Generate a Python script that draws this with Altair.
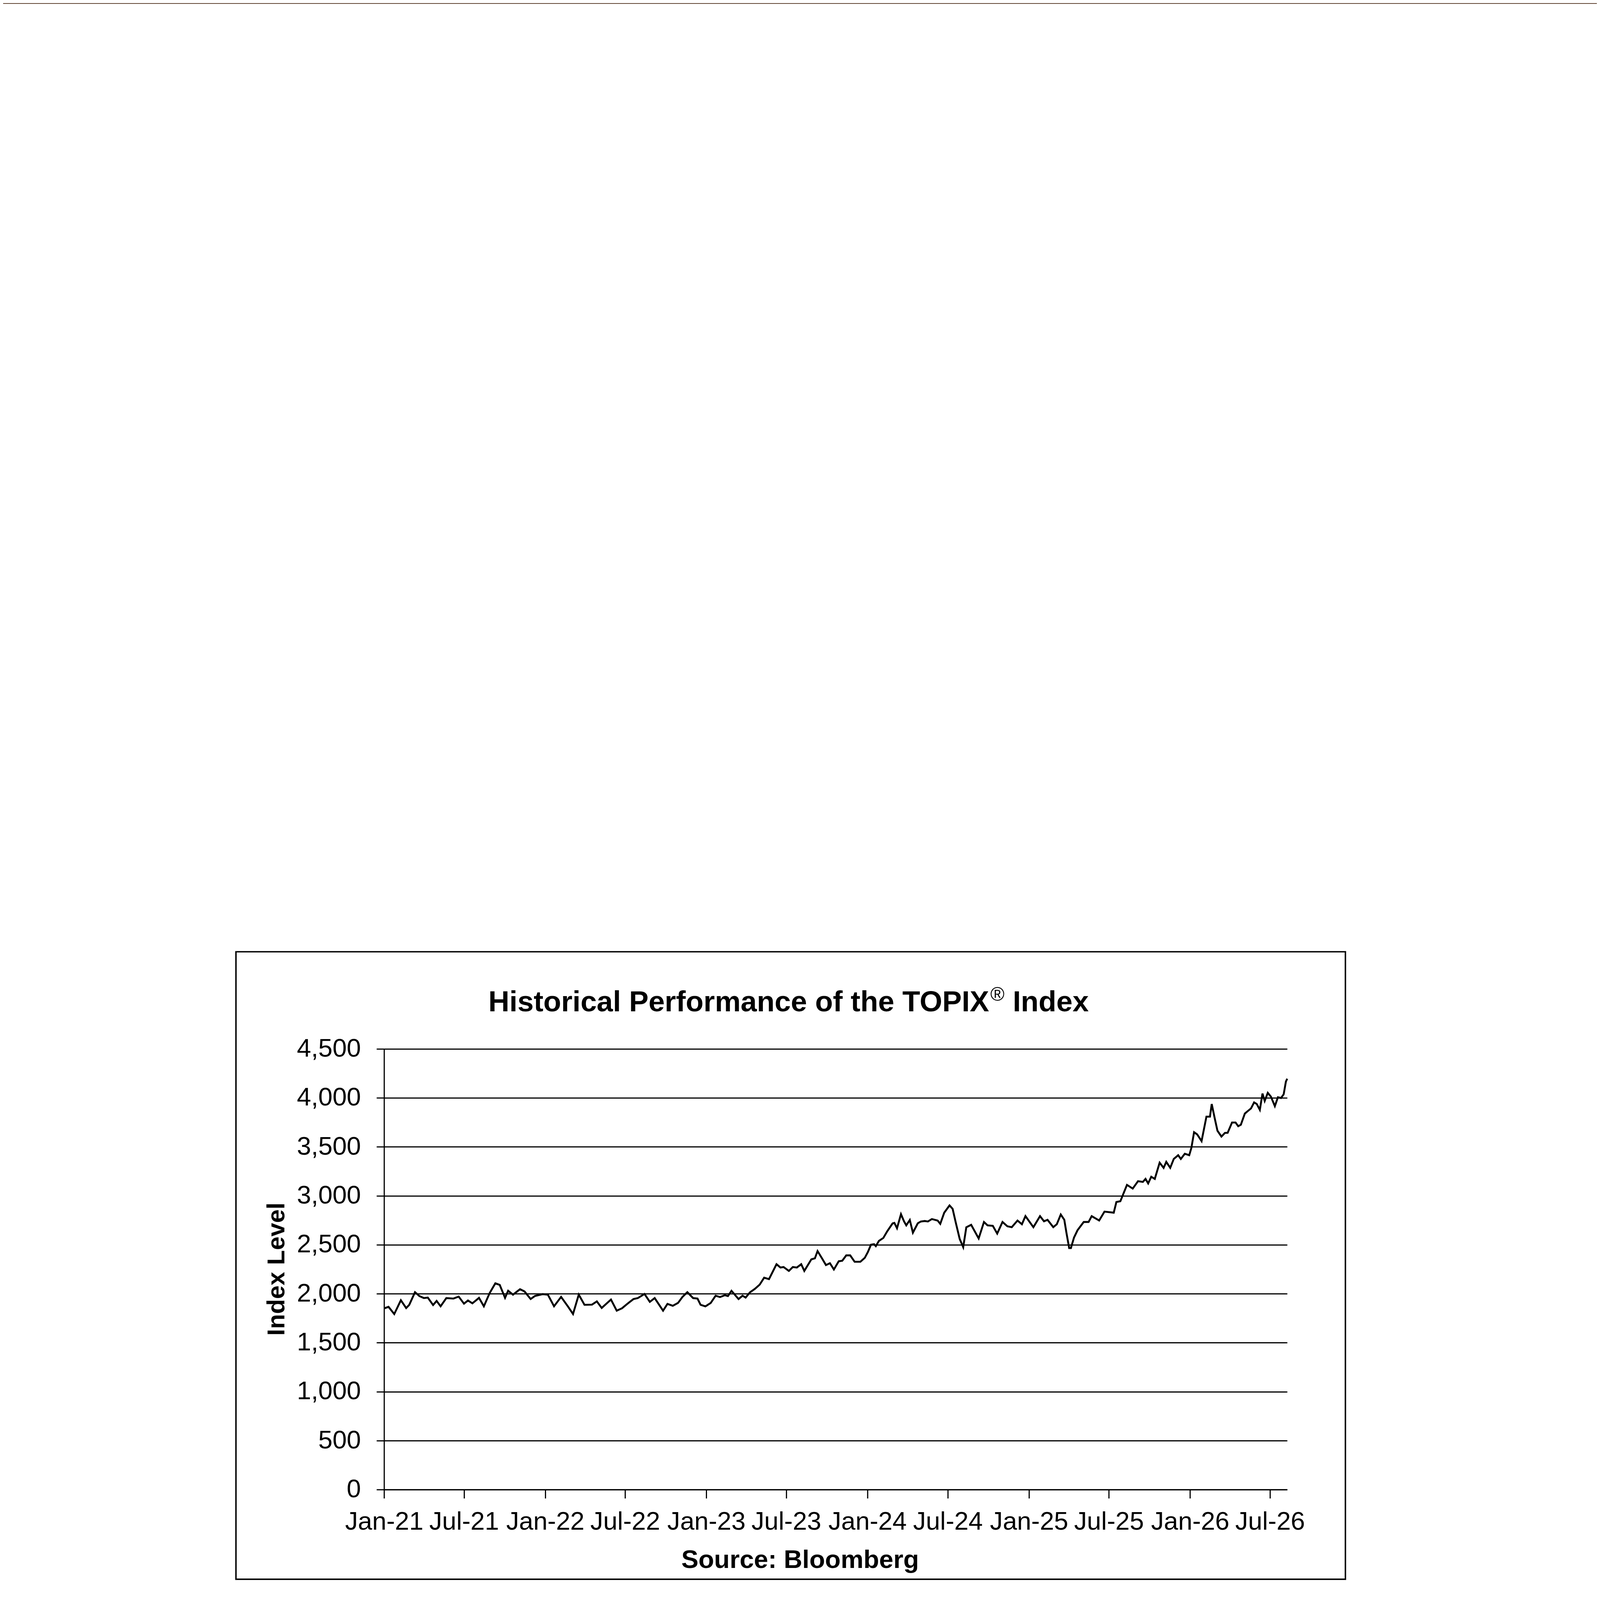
import altair as alt
import pandas as pd

# ---- data ----
dates = [
    "2021-01-02", "2021-01-11", "2021-01-24", "2021-02-08", "2021-02-20", "2021-02-27",
    "2021-03-12", "2021-03-22", "2021-04-01", "2021-04-10", "2021-04-22", "2021-04-30",
    "2021-05-09", "2021-05-22", "2021-06-07", "2021-06-19", "2021-07-01", "2021-07-10",
    "2021-07-20", "2021-08-04", "2021-08-15", "2021-08-28", "2021-09-10", "2021-09-20",
    "2021-10-02", "2021-10-09", "2021-10-20", "2021-11-05", "2021-11-15", "2021-11-29",
    "2021-12-09", "2021-12-26", "2022-01-07", "2022-01-21", "2022-02-06", "2022-02-22",
    "2022-03-05", "2022-03-18", "2022-03-31", "2022-04-17", "2022-04-28", "2022-05-09",
    "2022-05-30", "2022-06-12", "2022-06-24", "2022-07-06", "2022-07-20", "2022-07-30",
    "2022-08-14", "2022-08-26", "2022-09-06", "2022-09-25", "2022-10-05", "2022-10-17",
    "2022-10-29", "2022-11-08", "2022-11-19", "2022-12-02", "2022-12-12", "2022-12-19",
    "2022-12-30", "2023-01-11", "2023-01-22", "2023-02-01", "2023-02-12", "2023-02-19",
    "2023-02-27", "2023-03-15", "2023-03-24", "2023-03-31", "2023-04-10", "2023-04-21",
    "2023-05-02", "2023-05-12", "2023-05-23", "2023-06-09", "2023-06-18", "2023-06-25",
    "2023-07-07", "2023-07-16", "2023-07-25", "2023-08-04", "2023-08-11", "2023-08-27",
    "2023-09-04", "2023-09-10", "2023-09-20", "2023-09-29", "2023-10-08", "2023-10-17",
    "2023-10-28", "2023-11-05", "2023-11-14", "2023-11-23", "2023-12-03", "2023-12-16",
    "2023-12-26", "2024-01-02", "2024-01-09", "2024-01-16", "2024-01-20", "2024-01-27",
    "2024-02-06", "2024-02-15", "2024-02-27", "2024-03-02", "2024-03-08", "2024-03-17",
    "2024-03-24", "2024-03-29", "2024-04-06", "2024-04-13", "2024-04-24", "2024-05-01",
    "2024-05-10", "2024-05-17", "2024-05-26", "2024-06-08", "2024-06-14", "2024-06-23",
    "2024-07-05", "2024-07-12", "2024-07-19", "2024-07-28", "2024-08-05", "2024-08-12",
    "2024-08-23", "2024-09-09", "2024-09-21", "2024-09-29", "2024-10-11", "2024-10-21",
    "2024-11-02", "2024-11-13", "2024-11-23", "2024-12-06", "2024-12-16", "2024-12-24",
    "2025-01-11", "2025-01-26", "2025-02-04", "2025-02-12", "2025-02-25", "2025-03-05",
    "2025-03-14", "2025-03-22", "2025-03-27", "2025-04-02", "2025-04-06", "2025-04-13",
    "2025-04-21", "2025-05-05", "2025-05-16", "2025-05-23", "2025-06-09", "2025-06-21",
    "2025-07-12", "2025-07-18", "2025-07-27", "2025-08-11", "2025-08-24", "2025-09-05",
    "2025-09-16", "2025-09-22", "2025-09-28", "2025-10-05", "2025-10-13", "2025-10-24",
    "2025-11-02", "2025-11-08", "2025-11-17", "2025-11-25", "2025-12-05", "2025-12-11",
    "2025-12-20", "2025-12-30", "2026-01-04", "2026-01-10", "2026-01-17", "2026-01-27",
    "2026-02-07", "2026-02-15", "2026-02-19", "2026-02-26", "2026-03-04", "2026-03-13",
    "2026-03-21", "2026-03-27", "2026-04-06", "2026-04-14", "2026-04-20", "2026-04-26",
    "2026-05-05", "2026-05-11", "2026-05-19", "2026-05-26", "2026-06-01", "2026-06-08",
    "2026-06-14", "2026-06-19", "2026-06-26", "2026-07-03", "2026-07-12", "2026-07-19",
    "2026-07-26", "2026-08-01", "2026-08-06", "2026-08-09",
]
values = [
    1852, 1867, 1793, 1934, 1854, 1887,
    2016, 1976, 1956, 1961, 1885, 1927,
    1872, 1956, 1951, 1971, 1899, 1931,
    1902, 1958, 1872, 2006, 2107, 2090,
    1958, 2031, 1991, 2047, 2024, 1946,
    1978, 1996, 1991, 1872, 1968, 1867,
    1793, 1991, 1887, 1889, 1922, 1855,
    1941, 1827, 1852, 1897, 1946, 1956,
    1998, 1917, 1956, 1827, 1897, 1877,
    1907, 1968, 2016, 1956, 1951, 1887,
    1871, 1906, 1980, 1966, 1985, 1976,
    2030, 1946, 1980, 1961, 2015, 2050,
    2094, 2164, 2149, 2302, 2268, 2273,
    2233, 2273, 2268, 2302, 2233, 2352,
    2362, 2436, 2362, 2293, 2312, 2248,
    2332, 2337, 2392, 2392, 2327, 2327,
    2367, 2426, 2501, 2506, 2486, 2540,
    2570, 2639, 2719, 2724, 2669, 2813,
    2738, 2699, 2753, 2624, 2719, 2738,
    2743, 2738, 2763, 2748, 2714, 2828,
    2902, 2867, 2729, 2560, 2476, 2679,
    2704, 2565, 2733, 2699, 2694, 2615,
    2733, 2689, 2680, 2748, 2710, 2793,
    2680, 2793, 2740, 2755, 2680, 2710,
    2809, 2755, 2619, 2467, 2467, 2574,
    2649, 2733, 2733, 2793, 2748, 2839,
    2828, 2937, 2945, 3112, 3074, 3150,
    3142, 3173, 3127, 3195, 3173, 3339,
    3286, 3347, 3286, 3377, 3415, 3377,
    3430, 3415, 3491, 3650, 3628, 3559,
    3809, 3809, 3938, 3787, 3665, 3605,
    3643, 3643, 3749, 3749, 3711, 3726,
    3840, 3863, 3893, 3954, 3938, 3878,
    4045, 3969, 4052, 4014, 3916, 4007,
    3999, 4037, 4166, 4196,
]
y_ticks = [0, 500, 1000, 1500, 2000, 2500, 3000, 3500, 4000, 4500]
x_tick_years = [2021, 2021, 2022, 2022, 2023, 2023, 2024, 2024, 2025, 2025, 2026, 2026]
x_tick_months = [1, 7, 1, 7, 1, 7, 1, 7, 1, 7, 1, 7]

title_main = "Historical Performance of the TOPIX"
title_mark = "\u00ae"
title_end = "Index"
y_title = "Index Level"
x_title = "Source: Bloomberg"
logo_text = "J.P.Morgan"

df = pd.DataFrame({"date": dates, "level": values})
one = pd.DataFrame({"k": [0]})

FONT = "Liberation Sans"
PW, PH = 3103, 1514

x_vals = [alt.DateTime(year=y, month=m, date=1, utc=True)
          for y, m in zip(x_tick_years, x_tick_months)]

line = alt.Chart(df).mark_line(color="black", strokeWidth=6.5).encode(
    x=alt.X(
        "date:T",
        scale=alt.Scale(
            type="utc",
            domain=[alt.DateTime(year=2021, month=1, date=1, utc=True),
                    alt.DateTime(year=2026, month=8, date=9, utc=True)],
            nice=False,
        ),
        axis=alt.Axis(
            values=x_vals, labelExpr="utcFormat(datum.value, '%b-%y')",
            grid=False, domain=True, domainColor="black", domainWidth=4,
            ticks=True, tickSize=30, tickWidth=4, tickColor="black",
            labelFont=FONT, labelFontSize=88, labelColor="black", labelLimit=0,
            labelPadding=37, labelOverlap=False, labelFlush=False, labelBound=False,
            labelAlign="center", labelBaseline="top",
            title=x_title, titleFont=FONT, titleFontSize=88, titleFontWeight="bold",
            titleColor="black", titleX=1429, titleY=269, titleAlign="center",
            titleBaseline="alphabetic", titleLimit=0,
        ),
    ),
    y=alt.Y(
        "level:Q",
        scale=alt.Scale(domain=[0, 4500], nice=False, zero=True),
        axis=alt.Axis(
            values=y_ticks, format=",.0f",
            grid=True, gridColor="black", gridWidth=4, gridOpacity=1,
            domain=True, domainColor="black", domainWidth=4,
            ticks=True, tickSize=26, tickWidth=4, tickColor="black",
            labelFont=FONT, labelFontSize=88, labelColor="black", labelLimit=0,
            labelPadding=54, labelOverlap=False, labelFlush=False, labelBound=False,
            labelAlign="right", labelBaseline="middle",
            title=y_title, titleFont=FONT, titleFontSize=84, titleFontWeight="bold",
            titleColor="black", titleAngle=270, titleX=-343, titleY=756,
            titleAlign="center", titleBaseline="alphabetic", titleLimit=0,
        ),
    ),
)

box = alt.Chart(one).mark_rect(fillOpacity=0, stroke="black", strokeWidth=5).encode(
    x=alt.value(-509), x2=alt.value(3303), y=alt.value(-334), y2=alt.value(1822)
)

t1 = alt.Chart(one).mark_text(
    text=title_main, font=FONT, fontSize=100, fontWeight="bold", color="black",
    align="right", baseline="alphabetic",
).encode(x=alt.value(2079), y=alt.value(-129))
t2 = alt.Chart(one).mark_text(
    text=title_mark, font=FONT, fontSize=66, color="black",
    align="left", baseline="alphabetic",
).encode(x=alt.value(2083), y=alt.value(-166))
t3 = alt.Chart(one).mark_text(
    text=title_end, font=FONT, fontSize=100, fontWeight="bold", color="black",
    align="left", baseline="alphabetic",
).encode(x=alt.value(2160), y=alt.value(-129))

band = alt.Chart(one).mark_rect(color="#4a2b16").encode(
    x=alt.value(-1309), x2=alt.value(4167), y=alt.value(-3596), y2=alt.value(-3591)
)

footer = alt.Chart(one).mark_rule(color="#595959", strokeWidth=8).encode(
    x=alt.value(-1271), x2=alt.value(4068), y=alt.value(3191)
)

logo = alt.Chart(one).mark_text(
    text=logo_text, font="Liberation Serif", fontSize=250, color="#5b3520",
    align="right", baseline="alphabetic",
).encode(x=alt.value(4085), y=alt.value(3504))

chart = alt.layer(box, line, t1, t2, t3, band, footer, logo).properties(
    width=PW, height=PH,
    autosize=alt.AutoSizeParams(type="none"),
    padding={"left": 1309, "top": 2543, "right": 1064, "bottom": 2083},
    background="white",
).configure_view(stroke=None)

chart.save("out.html", embed_options={"renderer": "svg", "actions": False})
